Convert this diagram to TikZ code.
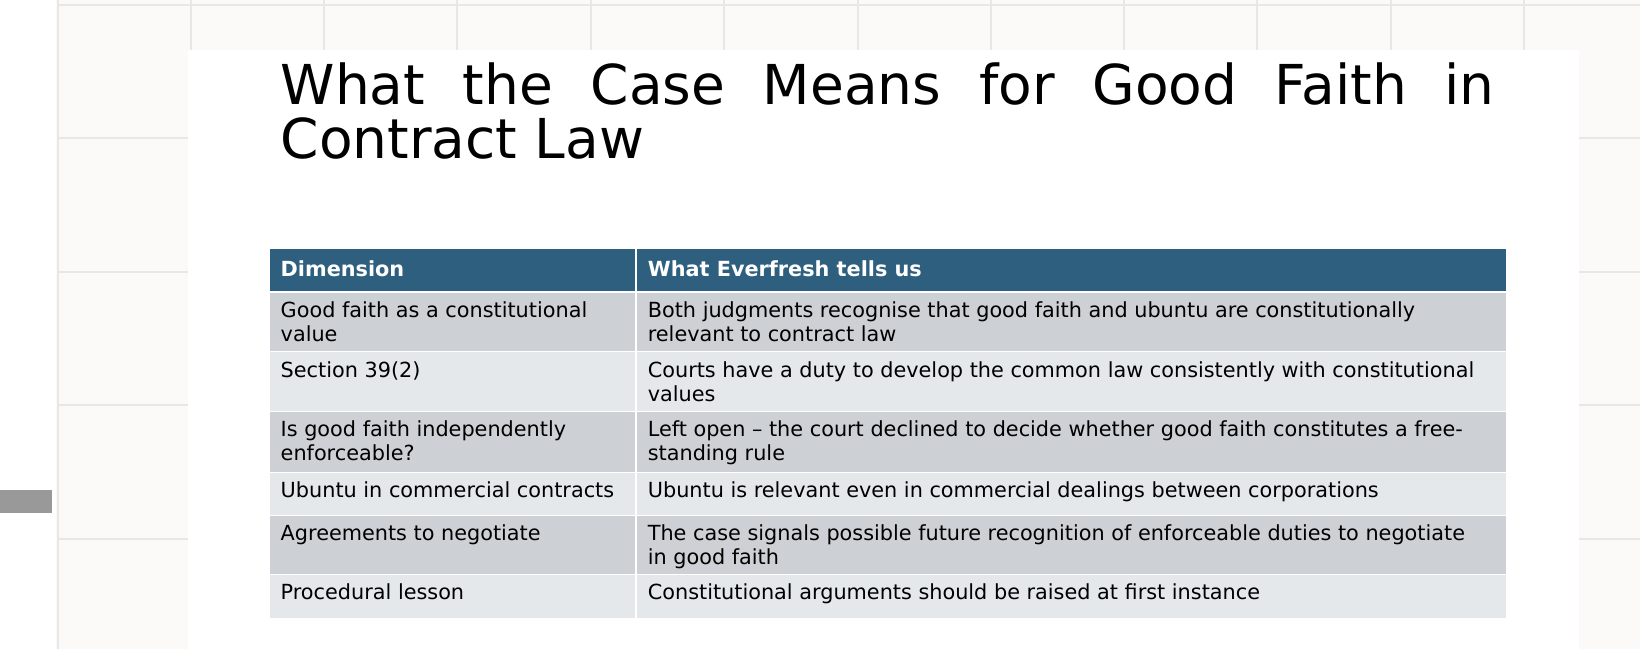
\documentclass[tikz,border=0pt]{standalone}
\usepackage{fontspec}
\setmainfont{DejaVu Sans}
\definecolor{headblue}{HTML}{2E5F7F}
\definecolor{rowdark}{HTML}{CDD1D5}
\definecolor{rowlight}{HTML}{E4E8EB}
\definecolor{gridgray}{HTML}{E9E7E4}
\definecolor{paper}{HTML}{FBFAF8}
\tikzset{
  cell/.style={anchor=north west, inner sep=0pt, align=left, font=\fontsize{10.4}{12}\selectfont},
  headcell/.style={anchor=west, inner sep=0pt, text=white, font=\fontsize{10.4}{12}\selectfont\bfseries},
}
\begin{document}
\begin{tikzpicture}[x=0.523pt, y=-0.523pt]
    \useasboundingbox (0,0) rectangle (1568,620.5);
    \fill[paper] (0,0) rectangle (1568,620.5);
    % background grid
    \foreach \gx in {55,183,310,437,565,692,820,947,1075,1202,1330,1457}
        \draw[gridgray, line width=1pt] (\gx,0) -- (\gx,620.5);
    \foreach \gy in {5,132,260,387,515}
        \draw[gridgray, line width=1pt] (55,\gy) -- (1568,\gy);
    \fill[white] (0,0) rectangle (54,620.5);
    \fill[gray!80] (0,468) rectangle (50,490);
    % slide
    \fill[white] (180,48) rectangle (1510,620.5);
    \node[anchor=north west, inner sep=0pt, font=\fontsize{27.5}{29}\selectfont, align=left] (title) at (268,60)
        {\makebox[607pt][s]{What the Case Means for Good Faith in}\\[-2pt]Contract Law};
    % table rows
    \fill[headblue] (258,238) rectangle (1440,278);
    \draw[white, line width=1pt] (608,238) -- (608,278);
    \foreach \top/\bot/\col in {280/336/rowdark, 337/393/rowlight, 394/451/rowdark,
                                452/492/rowlight, 493/549/rowdark, 550/591/rowlight}
    {
        \fill[\col] (258,\top) rectangle (607,\bot);
        \fill[\col] (609,\top) rectangle (1440,\bot);
    }
    \node[headcell] (h1) at (268,257) {Dimension};
    \node[headcell] (h2) at (619,257) {What Everfresh tells us};
    \node[cell] (d1) at (268,288) {Good faith as a constitutional\\value};
    \node[cell] (e1) at (619,288) {Both judgments recognise that good faith and ubuntu are constitutionally\\relevant to contract law};
    \node[cell] (d2) at (268,345) {Section 39(2)};
    \node[cell] (e2) at (619,345) {Courts have a duty to develop the common law consistently with constitutional\\values};
    \node[cell] (d3) at (268,402) {Is good faith independently\\enforceable?};
    \node[cell] (e3) at (619,402) {Left open – the court declined to decide whether good faith constitutes a free-\\standing rule};
    \node[cell] (d4) at (268,460) {Ubuntu in commercial contracts};
    \node[cell] (e4) at (619,460) {Ubuntu is relevant even in commercial dealings between corporations};
    \node[cell] (d5) at (268,501) {Agreements to negotiate};
    \node[cell] (e5) at (619,501) {The case signals possible future recognition of enforceable duties to negotiate\\in good faith};
    \node[cell] (d6) at (268,558) {Procedural lesson};
    \node[cell] (e6) at (619,558) {Constitutional arguments should be raised at first instance};
\end{tikzpicture}
\end{document}
